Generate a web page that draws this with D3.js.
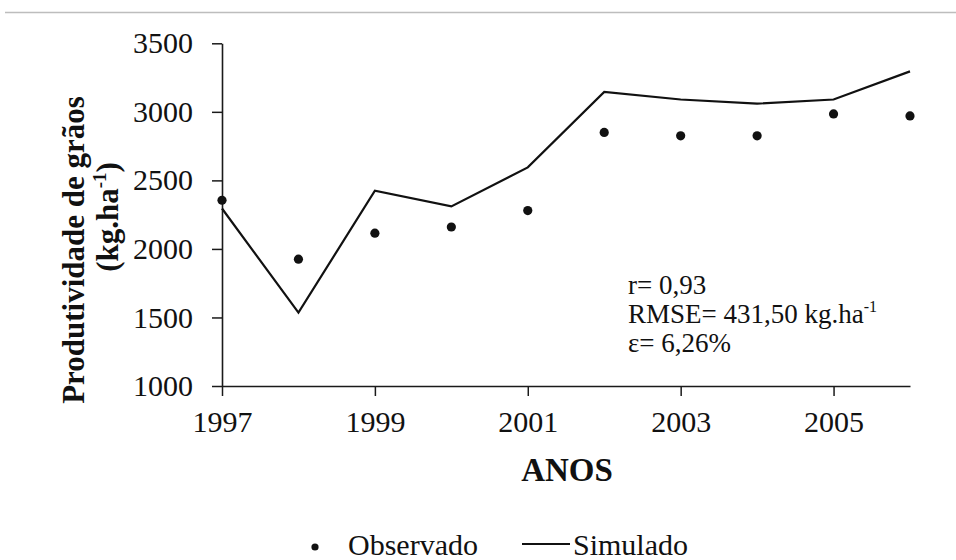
<!DOCTYPE html>
<html>
<head>
<meta charset="utf-8">
<script src="https://cdn.jsdelivr.net/npm/d3@7"></script>
<style>
  html, body { margin: 0; padding: 0; background: #fff; }
  svg { display: block; }
  text { font-family: "Liberation Serif", "Times New Roman", serif; fill: #111; }
</style>
</head>
<body>
<svg id="chart" width="956" height="560"></svg>
<script>
// Grain yield per year: observed values and model simulation
const years = [1997, 1998, 1999, 2000, 2001, 2002, 2003, 2004, 2005, 2006];
const observado = [2355, 1925, 2115, 2160, 2280, 2850, 2825, 2825, 2985, 2970];
const simulado = [2295, 1535, 2425, 2310, 2595, 3145, 3090, 3060, 3090, 3295];
const yTicks = [1000, 1500, 2000, 2500, 3000, 3500];
const xTicks = [1997, 1999, 2001, 2003, 2005];
const legendLabels = ["Observado", "Simulado"];
const statLines = ["r= 0,93", "RMSE= 431,50 kg.ha", "\u03B5= 6,26%"];

const svg = d3.select("#chart");

// thin rule across the top
svg.append("line")
  .attr("x1", 5).attr("x2", 956).attr("y1", 12.5).attr("y2", 12.5)
  .attr("stroke", "#bdbdbd").attr("stroke-width", 1.5);

const x = d3.scaleLinear().domain([1997, 2006]).range([222, 910]);
const y = d3.scaleLinear().domain([1000, 3500]).range([386, 43.3]);

// y axis
const yAxis = svg.append("g")
  .attr("transform", `translate(${x(1997)},0)`)
  .call(d3.axisLeft(y).tickValues(yTicks).tickSize(10).tickSizeOuter(0).tickPadding(19)
    .tickFormat(d3.format("d")));
// x axis
const xAxis = svg.append("g")
  .attr("transform", `translate(0,${y(1000)})`)
  .call(d3.axisBottom(x).tickValues(xTicks).tickSize(10).tickSizeOuter(0).tickPadding(15)
    .tickFormat(d3.format("d")));

[yAxis, xAxis].forEach(g => {
  g.attr("font-family", null);
  g.selectAll("path.domain").attr("stroke", "#1a1a1a").attr("stroke-width", 1.6);
  g.selectAll(".tick line").attr("stroke", "#1a1a1a").attr("stroke-width", 1.5);
  g.selectAll(".tick text")
    .style("font-family", "'Liberation Serif', 'Times New Roman', serif")
    .style("font-size", "30px").attr("fill", "#111");
});

// simulated series as a line
const line = d3.line().x((d, i) => x(years[i])).y(d => y(d));
svg.append("path")
  .datum(simulado)
  .attr("d", line)
  .attr("fill", "none")
  .attr("stroke", "#111")
  .attr("stroke-width", 2.2)
  .attr("stroke-linejoin", "miter");

// observed series as dots
svg.append("g").selectAll("circle")
  .data(observado)
  .join("circle")
  .attr("cx", (d, i) => x(years[i]))
  .attr("cy", d => y(d))
  .attr("r", 4.6)
  .attr("fill", "#111");

// statistics block
const stats = svg.append("g").style("font-size", "27px");
const statBase = [294, 323, 352];
statLines.forEach((s, i) => {
  const t = stats.append("text").attr("x", 628).attr("y", statBase[i]).text(s);
  if (i === 1) {
    t.append("tspan").attr("dy", -11).style("font-size", "16px").text("-1");
  }
});

// axis titles
svg.append("text")
  .attr("x", 567).attr("y", 481)
  .attr("text-anchor", "middle")
  .style("font-size", "33px").style("font-weight", "bold")
  .text("ANOS");

const yTitle = svg.append("g").attr("transform", "translate(84,250) rotate(-90)");
yTitle.append("text")
  .attr("x", 0).attr("y", 0)
  .attr("text-anchor", "middle")
  .style("font-size", "31px").style("font-weight", "bold")
  .text("Produtividade de gr\u00E3os");
const unit = yTitle.append("text")
  .attr("x", 33).attr("y", 34)
  .attr("text-anchor", "middle")
  .style("font-size", "31px").style("font-weight", "bold");
unit.append("tspan").text("(kg.ha");
unit.append("tspan").attr("dy", -12).style("font-size", "19px").text("-1");
unit.append("tspan").attr("dy", 12).text(")");

// legend
const lg = svg.append("g").style("font-size", "30px");
lg.append("circle").attr("cx", 315).attr("cy", 547).attr("r", 3.6).attr("fill", "#111");
lg.append("text").attr("x", 348).attr("y", 555).text(legendLabels[0]);
lg.append("line").attr("x1", 522).attr("x2", 570).attr("y1", 544).attr("y2", 544)
  .attr("stroke", "#111").attr("stroke-width", 2.2);
lg.append("text").attr("x", 573).attr("y", 555).text(legendLabels[1]);
</script>
</body>
</html>
